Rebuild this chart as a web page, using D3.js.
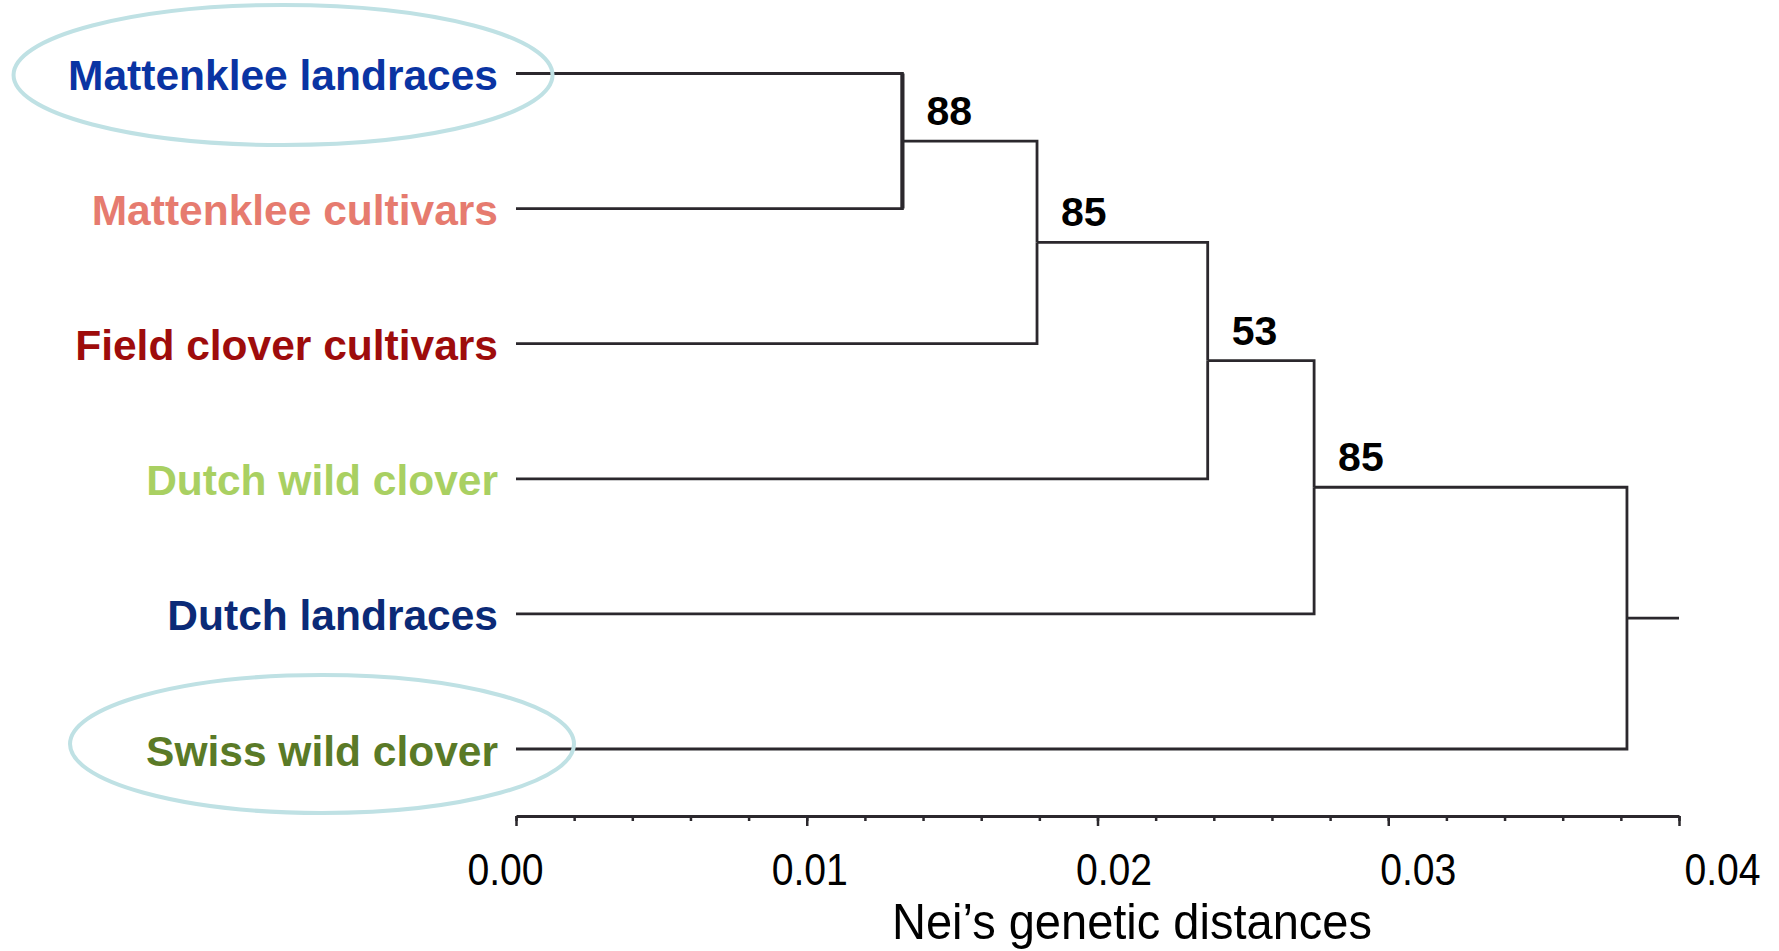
<!DOCTYPE html>
<html>
<head>
<meta charset="utf-8">
<script src="https://cdn.jsdelivr.net/npm/d3@7"></script>
<style>
  body { margin: 0; background: #fff; }
  svg { display: block; font-family: "Liberation Sans", Arial, sans-serif; }
</style>
</head>
<body>
<svg id="chart"></svg>
<script>
// leaves, top to bottom
var leafNames = ["Mattenklee landraces", "Mattenklee cultivars", "Field clover cultivars",
                 "Dutch wild clover", "Dutch landraces", "Swiss wild clover"];
var leafColors = ["#0a34a3", "#e67b6f", "#9e0c0c", "#a9d062", "#0b2a77", "#5a7a27"];

// ladder tree: join i merges the previous cluster with leaf i+1
var joinHeights = [0.01329, 0.01792, 0.02379, 0.02745, 0.03821];
var bootstrapValues = ["88", "85", "53", "85", ""];
var rootEnd = 0.04;

var highlighted = ["Mattenklee landraces", "Swiss wild clover"];

var majorTicks = [0, 0.01, 0.02, 0.03, 0.04];
var minorTicks = [0, 0.002, 0.004, 0.006, 0.008, 0.01, 0.012, 0.014, 0.016, 0.018, 0.02,
                  0.022, 0.024, 0.026, 0.028, 0.03, 0.032, 0.034, 0.036, 0.038, 0.04];
var xTitle = "Nei\u2019s genetic distances";

var svgWidth = 1779;
var svgHeight = 951;
var lineColor = "#2b282d";
var lineWidth = 2.8;

var svg = d3.select("#chart")
    .attr("width", svgWidth)
    .attr("height", svgHeight);

svg.append("rect").attr("width", svgWidth).attr("height", svgHeight).attr("fill", "#fff");

var xScale = d3.scaleLinear().domain([0, 0.04]).range([516, 1679]);
var yScale = d3.scalePoint().domain(leafNames).range([73.5, 749]);
// tick labels in the original are spread a little wider than the ticks
var labelScale = d3.scaleLinear().domain([0, 0.04]).range([505, 1722]);

// build the clusters
var current = { h: 0, y: yScale(leafNames[0]) };
var joins = [];
for (let i = 0; i < joinHeights.length; i++) {
    let leaf = { h: 0, y: yScale(leafNames[i + 1]) };
    let node = { h: joinHeights[i], y: (current.y + leaf.y) / 2, a: current, b: leaf, label: bootstrapValues[i] };
    joins.push(node);
    current = node;
}
var root = current;

var tree = svg.append("g");

// horizontal branches with their vertical connectors
joins.forEach(function(node) {
    [node.a, node.b].forEach(function(child) {
        tree.append("path")
            .attr("d", "M" + xScale(child.h) + "," + child.y + "H" + xScale(node.h) + "V" + node.y)
            .attr("fill", "none")
            .attr("stroke", lineColor)
            .attr("stroke-width", lineWidth);
    });
});

// first join is drawn heavier in the original
tree.append("line")
    .attr("x1", xScale(joins[0].h)).attr("x2", xScale(joins[0].h))
    .attr("y1", joins[0].a.y).attr("y2", joins[0].b.y)
    .attr("stroke", lineColor)
    .attr("stroke-width", 4.2);

// root stub
tree.append("line")
    .attr("x1", xScale(root.h)).attr("x2", xScale(rootEnd))
    .attr("y1", root.y).attr("y2", root.y)
    .attr("stroke", lineColor)
    .attr("stroke-width", lineWidth);

// bootstrap values
tree.selectAll(".boot")
    .data(joins.filter((d) => d.label != ""))
    .enter().append("text")
    .attr("class", "boot")
    .attr("x", (d) => xScale(d.h) + 24)
    .attr("y", (d) => d.y - 16)
    .attr("font-size", 41)
    .attr("font-weight", "bold")
    .attr("fill", "#000")
    .text((d) => d.label);

// leaf labels
var labels = svg.selectAll(".leaf")
    .data(leafNames)
    .enter().append("text")
    .attr("class", "leaf")
    .attr("x", xScale(0) - 18)
    .attr("y", (d) => yScale(d) + 16.5)
    .attr("text-anchor", "end")
    .attr("font-size", 42.5)
    .attr("font-weight", "bold")
    .attr("fill", (d, i) => leafColors[i])
    .text((d) => d);

// cyan ellipses around the highlighted groups
var ellipseSize = { "Mattenklee landraces": [269.5, 70, 1.5], "Swiss wild clover": [252, 69, -5] };
labels.filter((d) => highlighted.includes(d)).each(function(d) {
    let box = this.getBBox();
    let s = ellipseSize[d];
    svg.append("ellipse")
        .attr("cx", box.x + box.width / 2)
        .attr("cy", yScale(d) + s[2])
        .attr("rx", s[0])
        .attr("ry", s[1])
        .attr("fill", "none")
        .attr("stroke", "#bfe1e4")
        .attr("stroke-width", 4);
});

// axis
var axisY = 816;
var axisG = svg.append("g").attr("transform", "translate(0," + axisY + ")");

axisG.append("g")
    .call(d3.axisBottom(xScale).tickValues(minorTicks).tickSize(5).tickSizeOuter(0).tickFormat(""))
    .call((g) => g.select(".domain").attr("stroke-width", 3).attr("stroke", lineColor))
    .call((g) => g.selectAll(".tick line").attr("stroke-width", 2.5).attr("stroke", lineColor));

var majorAxis = axisG.append("g")
    .call(d3.axisBottom(xScale).tickValues(majorTicks).tickSize(10).tickSizeOuter(0).tickFormat(d3.format(".2f")));
majorAxis.select(".domain").remove();
majorAxis.selectAll(".tick line").attr("stroke-width", 2.5).attr("stroke", lineColor);
majorAxis.selectAll(".tick text")
    .attr("x", (d) => labelScale(d) - xScale(d))
    .attr("y", 69)
    .attr("dy", null)
    .attr("fill", "#000")
    .attr("font-size", 45)
    .attr("font-family", "Liberation Sans, Arial, sans-serif")
    .each(function() {
        let w = this.getComputedTextLength();
        d3.select(this).attr("textLength", w * 0.87).attr("lengthAdjust", "spacingAndGlyphs");
    });

svg.append("text")
    .attr("x", 1132)
    .attr("y", 939)
    .attr("text-anchor", "middle")
    .attr("font-size", 50)
    .attr("fill", "#000")
    .attr("textLength", 480)
    .attr("lengthAdjust", "spacingAndGlyphs")
    .text(xTitle);
</script>
</body>
</html>
